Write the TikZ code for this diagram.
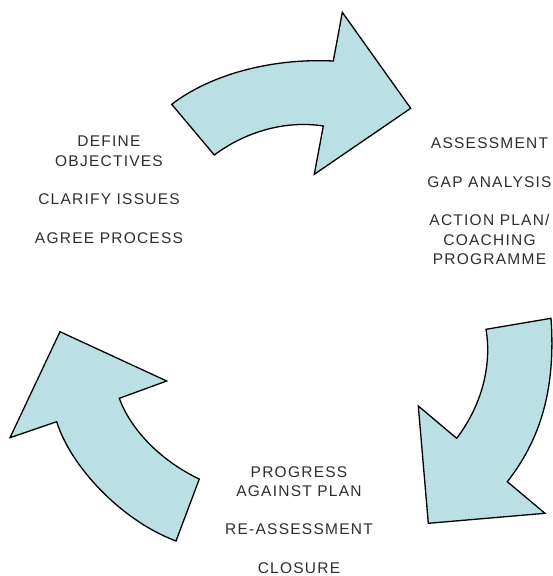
\documentclass[tikz,border=0pt]{standalone}
\usepackage{fontspec}
\usepackage{tikz}
\usepackage{xcolor}
\newfontfamily\stagefont[LetterSpace=8]{Liberation Sans}
\definecolor{arrowfill}{RGB}{187,224,227}
\definecolor{stagetext}{RGB}{45,45,45}
\tikzset{
    cyclearrow/.style={fill=arrowfill, draw=black, line width=1.3pt, line join=miter},
    stage/.style={anchor=north, inner sep=0pt, align=center, text=stagetext,
        font=\stagefont\fontsize{15.5}{19.3}\selectfont},
}

\begin{document}
\begin{tikzpicture}[x=1pt,y=-1pt]
		\useasboundingbox (0,0) rectangle (552,576);
		% the three curved arrows of the cycle
		\draw[cyclearrow] (171.7,104.3) .. controls (210,75) and (270,58) .. (333.3,61) -- (342.3,12.3) -- (410.7,108.3) -- (314.3,174.3) -- (323.3,126) .. controls (285,120) and (245,132) .. (214.3,155) -- cycle;
		\draw[cyclearrow] (486,329.3) -- (551,318.3) .. controls (556,390) and (540,440) .. (507.3,481.7) -- (545,513.3) -- (428.3,523.3) -- (418.3,406) -- (456.7,438.3) .. controls (482,405) and (492,365) .. (486,329.3) -- cycle;
		\draw[cyclearrow] (176,541) -- (199.3,479) .. controls (165,463) and (132,433) .. (119.3,398.3) -- (166.7,381) -- (60,331.7) -- (10,437.7) -- (56.7,421.7) .. controls (70,465) and (120,520) .. (176,541) -- cycle;
		% stage texts
		\node[stage] (define) at (109,136) {DEFINE\\OBJECTIVES\\[19.3pt]CLARIFY ISSUES\\[19.3pt]AGREE PROCESS};
		\node[stage] (assess) at (489.5,137.5) {ASSESSMENT\\[19.3pt]GAP ANALYSIS\\[19.3pt]ACTION PLAN/\\COACHING\\PROGRAMME};
		\node[stage] (progress) at (299,466) {PROGRESS\\AGAINST PLAN\\[19.3pt]RE-ASSESSMENT\\[19.3pt]CLOSURE};
	\end{tikzpicture}
\end{document}
